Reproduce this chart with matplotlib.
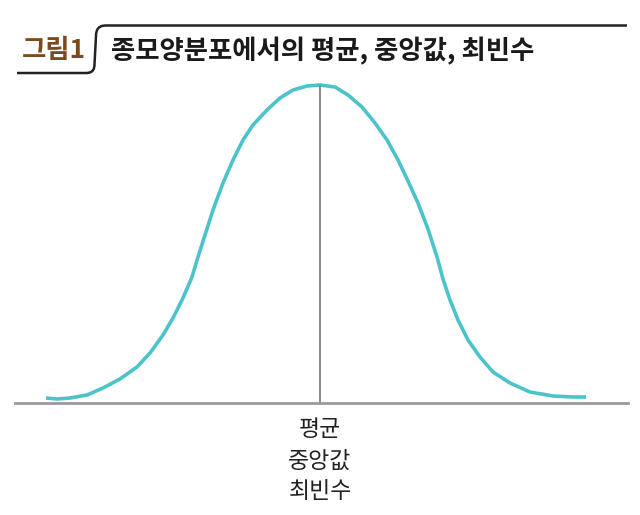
import matplotlib
matplotlib.use("Agg")
from matplotlib import pyplot as plt
from matplotlib.path import Path
from matplotlib.patches import PathPatch

plt.rcParams['font.family'] = ['Noto Sans CJK KR', 'DejaVu Sans']

# bell curve (x relative to the mean, y = height above baseline)
curve_x = [-274, -263, -250, -233, -217, -200, -183, -170, -157, -147, -137, -128,
           -122, -115, -107, -97, -87, -77, -67, -53, -40, -27, -13, 0,
           15, 28, 42, 55, 67, 78, 88, 98, 108, 117, 123, 130, 138, 148,
           160, 173, 190, 210, 233, 253, 266]
curve_y = [5, 4, 5, 8, 15, 24, 36, 50, 68, 85, 105, 126,
           146, 168, 193, 220, 243, 263, 278, 293, 305, 313, 317, 318,
           316, 308, 296, 280, 263, 243, 222, 200, 174, 146, 124, 103, 83, 63,
           46, 31, 20, 11, 7, 6, 6]
peak_x = 0
peak_y = 318
tick_label = "평균\n중앙값\n최빈수"
title_tag = "그림1"
title_text = "종모양분포에서의 평균, 중앙값, 최빈수"

W, H = 640, 515
fig = plt.figure(figsize=(W / 100, H / 100), dpi=100)
ax = fig.add_axes([15 / W, 112 / H, 613 / W, 343 / H])

ax.plot(curve_x, curve_y, color="#4cc3cb", lw=2.6, solid_capstyle="butt", solid_joinstyle="round")
ax.vlines(peak_x, 0, peak_y, color="#8a8a8a", lw=1.4)

ax.set_xlim(-305, 308)
ax.set_ylim(0, 343)
for s in ["top", "right", "left"]:
    ax.spines[s].set_visible(False)
ax.spines["bottom"].set_color("#999999")
ax.spines["bottom"].set_linewidth(2)
ax.set_yticks([])
ax.set_xticks([peak_x])
ax.set_xticklabels([tick_label], fontsize=16.5, color="#222222", linespacing=1.45)
ax.tick_params(axis="x", length=0, pad=11)


def fx(x, y):
    return (x / W, 1 - y / H)


# title bracket
verts = [fx(17, 73), fx(86, 73), fx(93, 73), fx(94.5, 69), fx(94.5, 64),
         fx(96, 36), fx(96, 29), fx(99, 25.5), fx(106, 25.5), fx(627, 25.5)]
codes = [Path.MOVETO, Path.LINETO, Path.CURVE4, Path.CURVE4, Path.CURVE4,
         Path.LINETO, Path.CURVE4, Path.CURVE4, Path.CURVE4, Path.LINETO]
fig.add_artist(PathPatch(Path(verts, codes), transform=fig.transFigure,
                         fill=False, edgecolor="#222222", lw=1.8, capstyle="butt"))

fig.text(22 / W, 1 - 51 / H, title_tag, fontsize=19, fontweight="bold",
         color="#7d4a1c", va="center", ha="left")
fig.text(111 / W, 1 - 51 / H, title_text, fontsize=19, fontweight="bold",
         color="#1a1a1a", va="center", ha="left")

fig.savefig("out.png", dpi=100, facecolor="white")
